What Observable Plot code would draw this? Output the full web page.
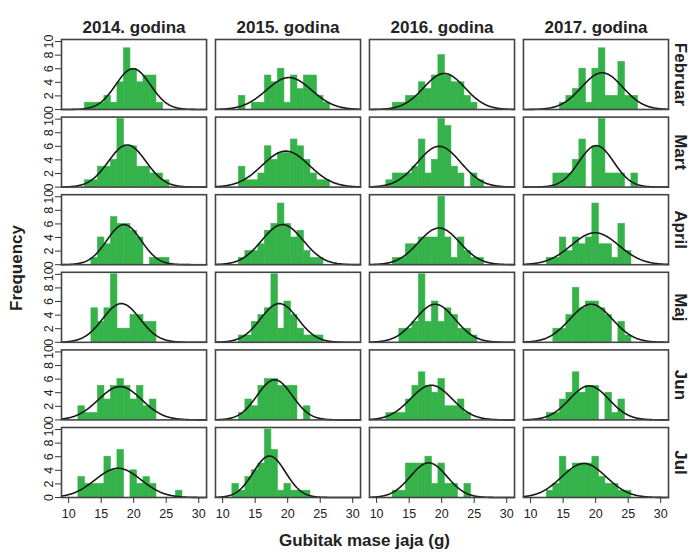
<!DOCTYPE html>
<html><head><meta charset="utf-8">
<script src="https://cdn.jsdelivr.net/npm/d3@7"></script>
<script src="https://cdn.jsdelivr.net/npm/@observablehq/plot@0.6"></script>
<style>body{margin:0;background:#fff}</style>
</head><body><div id="chart"></div>
<script>
const years = ["2014", "2015", "2016", "2017"];
const months = ["Februar", "Mart", "April", "Maj", "Jun", "Jul"];
const xTicks = [10, 15, 20, 25, 30];
const yTicks = [0, 2, 4, 6, 8, 10];

// centre (g) of the first 1-g bin of each panel, rows = months, columns = years
const binStart = [
  [13, 13, 13, 15],
  [13, 13, 12, 14],
  [14, 13, 13, 13],
  [14, 13, 14, 14],
  [12, 13, 12, 13],
  [12, 12, 13, 13]
];
// bar heights (frequency) per panel, consecutive 1-g bins
const countsFebruar = [
  [1,1,1,2,1,4,9,6,4,5,5,1],
  [2,0,1,1,5,4,6,1,5,3,5,5,2,1],
  [1,1,2,2,4,3,5,8,5,4,4,2,1],
  [1,2,3,6,1,6,9,2,2,7,2,2]
];
const countsMart = [
  [1,1,3,3,4,10,6,6,3,3,2,2,1],
  [3,1,1,2,6,4,5,5,7,6,4,2,1,1],
  [1,2,2,2,3,7,2,4,10,9,3,2,0,2,1],
  [2,2,2,4,7,0,6,10,2,2,2,0,2]
];
const countsApril = [
  [1,4,3,7,6,6,5,4,0,1,1,1],
  [1,2,2,3,5,6,9,6,4,5,2,1,1],
  [1,1,3,3,4,4,4,10,4,1,4,2,1,1],
  [1,1,4,2,4,3,4,9,3,3,1,6,2]
];
const countsMaj = [
  [5,3,5,10,2,2,4,4,3,3],
  [1,1,3,4,5,10,2,6,4,2,1,1,1],
  [2,2,3,10,3,6,3,5,4,2,2,1],
  [2,2,4,8,5,6,6,5,4,0,3,1]
];
const countsJun = [
  [2,1,1,5,3,5,6,5,3,5,2,3],
  [1,3,2,5,6,6,5,5,5,0,2],
  [1,1,1,3,5,7,5,4,6,2,2,3,1],
  [1,1,3,4,7,4,5,5,0,4,1,3]
];
const countsJul = [
  [3,2,2,2,6,4,7,0,4,2,3,2,0,0,0,1],
  [2,1,3,4,5,10,7,1,2,1,1,1],
  [1,1,5,5,5,6,2,5,2,2,0,2],
  [1,2,6,4,5,5,5,6,3,2,2,1,1]
];
const binCounts = [countsFebruar, countsMart, countsApril, countsMaj, countsJun, countsJul];

// fitted normal curve: centre (g) and peak height
const curveMean = [
  [19.9, 20.2, 20.4, 21.0],
  [19.0, 19.7, 19.6, 20.1],
  [18.5, 19.2, 19.6, 19.9],
  [18.1, 18.7, 19.0, 19.3],
  [17.9, 18.0, 18.4, 19.0],
  [17.6, 17.2, 18.0, 18.2]
];
const curvePeak = [
  [6.0, 4.7, 5.3, 5.4],
  [6.2, 5.3, 6.0, 6.1],
  [5.9, 5.9, 5.4, 4.7],
  [5.7, 5.7, 5.6, 5.6],
  [4.9, 5.9, 5.1, 5.0],
  [4.3, 6.1, 5.1, 5.0]
];

const xDomain = [8.9, 31.2];
const bars = [], curves = [];
months.forEach((m, i) => years.forEach((yr, j) => {
  const start = binStart[i][j], c = binCounts[i][j];
  c.forEach((v, k) => {
    if (v > 0) bars.push({month: m, year: yr, x1: start + k - 0.5, x2: start + k + 0.5, count: v});
  });
  const n = d3.sum(c), mu = curveMean[i][j], pk = curvePeak[i][j];
  const sd = n / (pk * Math.sqrt(2 * Math.PI));
  for (let s = 0; s <= 223; s++) {
    const x = xDomain[0] + s * 0.1;
    curves.push({month: m, year: yr, x, y: pk * Math.exp(-0.5 * ((x - mu) / sd) ** 2)});
  }
}));

const W = 691, H = 553, mL = 61, mR = 23, mT = 39, mB = 56;
const font = "'Liberation Sans', Arial, sans-serif";

const plot = Plot.plot({
  width: W, height: H,
  marginLeft: mL, marginRight: mR, marginTop: mT, marginBottom: mB,
  style: {fontFamily: font, color: "#222", background: "#fff", overflow: "visible"},
  x: {domain: xDomain},
  y: {domain: [0, 10.3]},
  fx: {domain: years, paddingInner: 0.058, paddingOuter: 0, round: false},
  fy: {domain: months, paddingInner: 0.098, paddingOuter: 0, round: false},
  marks: [
    Plot.rect(bars, {x1: "x1", x2: "x2", y1: 0, y2: "count", fx: "year", fy: "month",
      fill: "#35b34a", stroke: "#35b34a", strokeWidth: 0.6}),
    Plot.line(curves, {x: "x", y: "y", fx: "year", fy: "month", stroke: "#1a1a1a", strokeWidth: 1.6}),
    Plot.frame({stroke: "#444", strokeWidth: 1.6}),
    Plot.axisX({ticks: xTicks, tickSize: 6, tickPadding: 6, fontSize: 12.5, label: null, stroke: "#333"}),
    Plot.axisY({ticks: yTicks, tickSize: 6, tickPadding: 3, tickRotate: -90, fontSize: 12.5, label: null, stroke: "#333"}),
    Plot.axisFx({anchor: "top", tickSize: 0, tickPadding: 7, fontSize: 17, fontWeight: "bold", label: null,
      tickFormat: d => d + ". godina"}),
    Plot.axisFy({anchor: "right", tickSize: 0, tickPadding: 8, dx: 11, fontSize: 17, fontWeight: "bold", label: null,
      tickRotate: 90})
  ]
});

const svg = d3.select(plot);
svg.append("text")
  .attr("x", (mL + W - mR) / 2).attr("y", H - 11)
  .attr("text-anchor", "middle").attr("dominant-baseline", "middle")
  .attr("font-family", font).attr("font-size", 17).attr("font-weight", "bold").attr("fill", "#222")
  .text("Gubitak mase jaja (g)");
svg.append("text")
  .attr("transform", `translate(18,${(mT + H - mB) / 2}) rotate(-90)`)
  .attr("text-anchor", "middle").attr("dominant-baseline", "middle")
  .attr("font-family", font).attr("font-size", 17).attr("font-weight", "bold").attr("fill", "#222")
  .text("Frequency");

document.getElementById("chart").appendChild(plot);
</script>
</body></html>
